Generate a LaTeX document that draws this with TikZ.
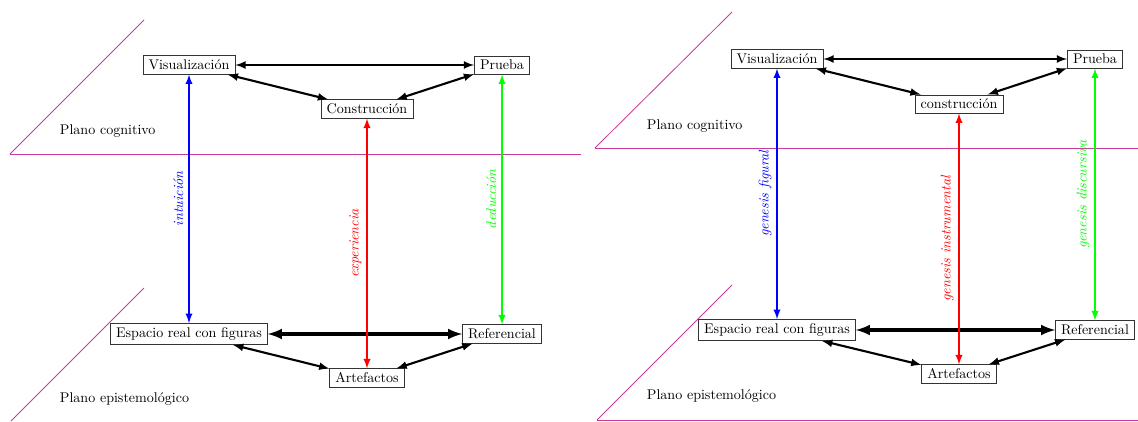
\documentclass[tikz,border=0pt]{standalone}
\usepackage[svgnames]{xcolor}
\usepackage{tikz}
\usetikzlibrary{arrows,positioning}
\definecolor{planecol}{RGB}{200,60,160}

\begin{document}
\begin{tikzpicture}[x=0.025cm,y=-0.025cm,>=latex,
    box/.style={draw=black!80,inner xsep=4pt,inner ysep=3pt},
    plane/.style={planecol,line width=0.6pt},
    link/.style={<->,line width=1.5pt},
    gen/.style={<->,line width=1.3pt}]
    \useasboundingbox (0,0) rectangle (1138,421);

    % left diagram
    \draw[plane] (10,154) -- (144,20);
    \draw[plane] (10,154) -- (581,154);
    \draw[plane] (11,421) -- (144,288);
    \node[anchor=west] (lcog) at (55,131) {Plano cognitivo};
    \node[anchor=west] (lepi) at (55,399) {Plano epistemológico};

    \node[box] (lvis) at (189,65) {Visualización};
    \node[box] (lpru) at (502,65) {Prueba};
    \node[box] (lcon) at (367,109) {Construcción};
    \node[box] (lesp) at (189,334) {Espacio real con figuras};
    \node[box] (lref) at (502,334) {Referencial};
    \node[box] (lart) at (367,378) {Artefactos};

    \draw[link] (lvis) -- (lpru);
    \draw[link] (lvis) -- (lcon);
    \draw[link] (lcon) -- (lpru);
    \draw[link,line width=2.4pt] (lesp) -- (lref);
    \draw[link] (lesp) -- (lart);
    \draw[link] (lart) -- (lref);

    \draw[gen,blue] (lesp) -- node[sloped,above]{\itshape intuición} (lvis);
    \draw[gen,red] (lart) -- node[sloped,above]{\itshape experiencia} (lcon);
    \draw[gen,green] (lref) -- node[sloped,above]{\itshape deducción} (lpru);

    % right diagram
    \draw[plane] (595,148) -- (732,12);
    \draw[plane] (595,148) -- (1138,148);
    \draw[plane] (597,420) -- (732,285);
    \draw[plane] (597,420) -- (1138,420);
    \node[anchor=west] (rcog) at (642,126) {Plano cognitivo};
    \node[anchor=west] (repi) at (642,396) {Plano epistemológico};

    \node[box] (rvis) at (777,59) {Visualización};
    \node[box] (rpru) at (1095,59) {Prueba};
    \node[box] (rcon) at (959,104) {construcción};
    \node[box] (resp) at (777,330) {Espacio real con figuras};
    \node[box] (rref) at (1095,330) {Referencial};
    \node[box] (rart) at (959,374) {Artefactos};

    \draw[link] (rvis) -- (rpru);
    \draw[link] (rvis) -- (rcon);
    \draw[link] (rcon) -- (rpru);
    \draw[link,line width=2.4pt] (resp) -- (rref);
    \draw[link] (resp) -- (rart);
    \draw[link] (rart) -- (rref);

    \draw[gen,blue] (resp) -- node[sloped,above]{\itshape genesis figural} (rvis);
    \draw[gen,red] (rart) -- node[sloped,above]{\itshape genesis instrumental} (rcon);
    \draw[gen,green] (rref) -- node[sloped,above]{\itshape genesis discursiva} (rpru);
\end{tikzpicture}
\end{document}
